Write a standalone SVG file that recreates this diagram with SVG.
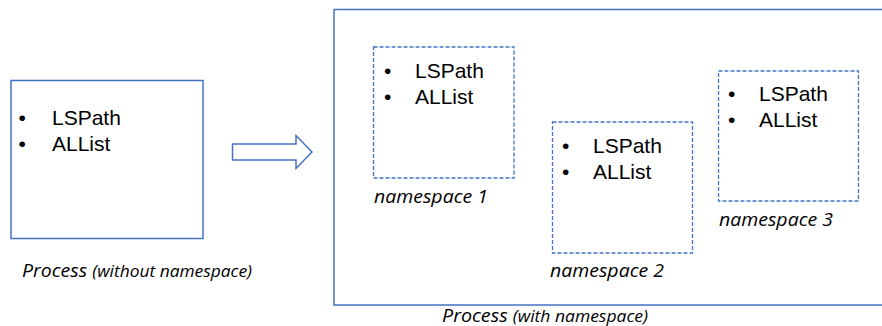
<svg xmlns="http://www.w3.org/2000/svg" width="882" height="326" viewBox="0 0 882 326">
<style>
.solid{fill:none;stroke:#4472C4;stroke-width:1.5}
.dash{fill:none;stroke:#4472C4;stroke-width:1.3;stroke-dasharray:4 2}
.item{font-family:"Liberation Sans",Arial,sans-serif;font-size:21px;fill:#000}
.lbl{font-family:"Open Sans","Noto Sans",sans-serif;font-style:italic;fill:#000}
</style>
<rect width="882" height="326" fill="#fff"/>
<g id="process-without">
<rect class="solid" x="11" y="80.5" width="192" height="158"/>
<text class="item" x="18.5" y="125">•</text><text class="item" x="52" y="125">LSPath</text>
<text class="item" x="18.5" y="151">•</text><text class="item" x="52" y="151">ALList</text>
<text class="lbl" x="22" y="277" textLength="230" lengthAdjust="spacingAndGlyphs"><tspan font-size="18">Process </tspan><tspan font-size="16">(without namespace)</tspan></text>
</g>
<g id="connectors">
<path class="solid" d="M232.5,144 H296 V135.5 L312,152 L296,168.5 V160 H232.5 Z"/>
</g>
<g id="process-with">
<rect class="solid" x="334" y="9.5" width="560" height="295.5"/>
<text class="lbl" x="442" y="322" textLength="206" lengthAdjust="spacingAndGlyphs"><tspan font-size="18">Process </tspan><tspan font-size="16">(with namespace)</tspan></text>
</g>
<g id="namespace1">
<rect class="dash" x="373.5" y="47" width="140.5" height="131"/>
<text class="item" x="384" y="78">•</text><text class="item" x="415" y="78">LSPath</text>
<text class="item" x="384" y="104">•</text><text class="item" x="415" y="104">ALList</text>
<text class="lbl" x="374" y="203" font-size="18" textLength="114" lengthAdjust="spacingAndGlyphs">namespace 1</text>
</g>
<g id="namespace2">
<rect class="dash" x="552.5" y="122" width="140" height="131"/>
<text class="item" x="562" y="153">•</text><text class="item" x="593" y="153">LSPath</text>
<text class="item" x="562" y="179">•</text><text class="item" x="593" y="179">ALList</text>
<text class="lbl" x="550" y="277" font-size="18" textLength="114" lengthAdjust="spacingAndGlyphs">namespace 2</text>
</g>
<g id="namespace3">
<rect class="dash" x="718.5" y="71" width="140" height="130"/>
<text class="item" x="728" y="101">•</text><text class="item" x="759" y="101">LSPath</text>
<text class="item" x="728" y="127">•</text><text class="item" x="759" y="127">ALList</text>
<text class="lbl" x="719" y="226" font-size="18" textLength="114" lengthAdjust="spacingAndGlyphs">namespace 3</text>
</g>
</svg>
